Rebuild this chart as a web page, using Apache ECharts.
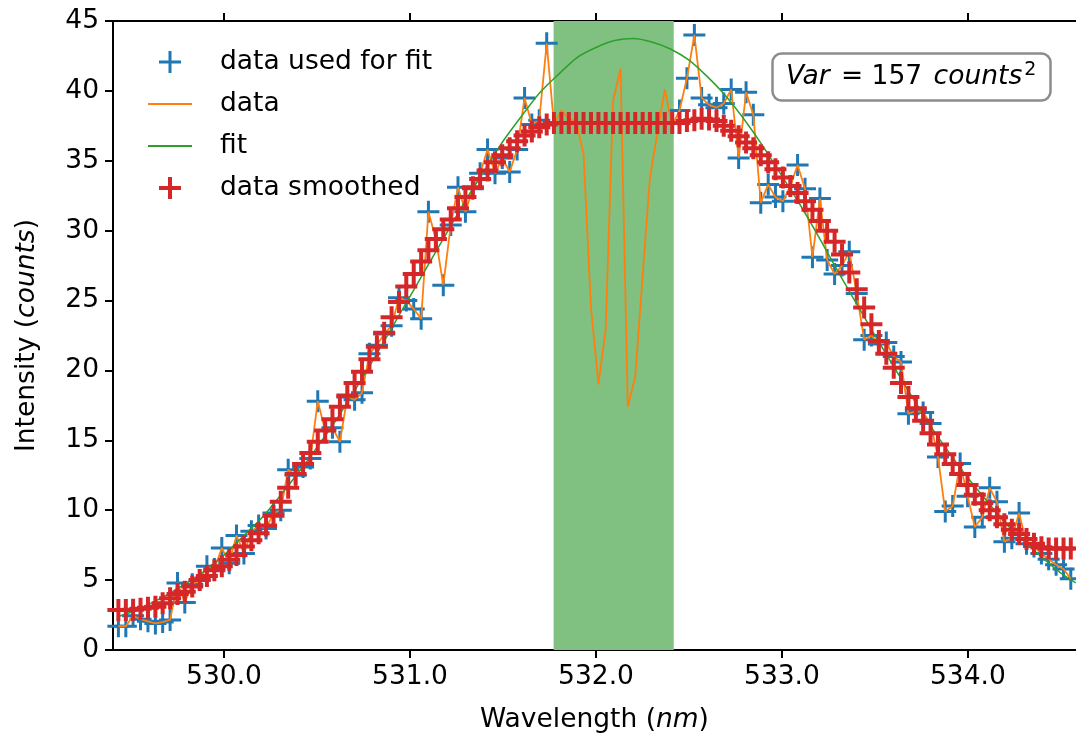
<!DOCTYPE html>
<html><head><meta charset="utf-8">
<script src="https://cdn.jsdelivr.net/npm/echarts@6/dist/echarts.min.js"></script>
<style>html,body{margin:0;padding:0;background:#fff}#c{width:1076px;height:736px}</style>
</head><body><div id="c"></div>
<script>
const wavelengths = [
529.432,529.472,529.511,529.551,529.591,529.631,529.670,529.710,529.750,529.789,
529.829,529.869,529.908,529.948,529.988,530.028,530.067,530.107,530.147,530.186,
530.226,530.266,530.305,530.345,530.385,530.425,530.464,530.504,530.544,530.583,
530.623,530.663,530.702,530.742,530.782,530.822,530.861,530.901,530.941,530.980,
531.020,531.060,531.099,531.139,531.179,531.219,531.258,531.298,531.338,531.377,
531.417,531.457,531.496,531.536,531.576,531.616,531.655,531.695,531.735,531.774,
531.814,531.854,531.893,531.933,531.973,532.013,532.052,532.092,532.132,532.171,
532.211,532.251,532.290,532.330,532.370,532.410,532.449,532.489,532.529,532.568,
532.608,532.648,532.687,532.727,532.767,532.807,532.846,532.886,532.926,532.965,
533.005,533.045,533.084,533.124,533.164,533.204,533.243,533.283,533.323,533.362,
533.402,533.442,533.481,533.521,533.561,533.601,533.640,533.680,533.720,533.759,
533.799,533.839,533.878,533.918,533.958,533.998,534.037,534.077,534.117,534.156,
534.196,534.236,534.275,534.315,534.355,534.395,534.434,534.474,534.514,534.553];

const counts = [
1.7,1.7,2.45,2.2,2.05,1.9,2.0,2.15,4.8,3.4,
4.7,5.0,6.0,5.8,7.3,6.2,8.2,6.9,8.5,8.9,
8.7,9.8,10.0,12.9,12.5,13.1,13.7,17.8,15.7,15.9,
14.9,18.1,17.9,18.4,21.2,21.8,22.6,23.2,25.2,25.0,
24.4,23.7,31.35,29.4,26.1,30.4,33.1,31.35,33.0,34.1,
35.8,34.1,35.2,34.2,35.8,39.5,37.6,37.9,43.4,37.6,
38.6,38.0,37.8,35.5,24.5,19.0,22.9,39.3,41.6,17.4,
19.55,26.8,33.8,37.0,40.1,37.5,38.6,40.9,44.0,39.5,
39.0,38.8,39.1,40.1,35.2,39.9,38.3,32.0,33.3,32.4,
32.1,33.2,34.7,33.0,28.1,32.3,27.9,26.9,27.5,28.5,
25.5,22.2,22.5,21.9,22.0,21.0,20.6,16.9,17.1,17.0,
16.2,13.8,9.9,10.3,13.35,11.0,8.8,9.5,11.6,10.6,
7.75,8.0,9.8,7.6,7.4,6.9,6.5,6.1,5.8,5.1];

const smoothed = [
2.86,2.86,2.88,2.95,3.02,3.1,3.35,3.7,4.0,4.17,
4.55,5.0,5.3,5.7,6.0,6.45,6.8,7.4,7.85,8.35,
8.9,9.6,10.6,11.6,12.6,13.3,14.1,14.9,15.7,16.5,
17.4,18.2,19.1,19.9,20.8,21.7,22.7,23.8,24.9,26.0,
26.9,27.8,28.6,29.4,30.1,30.8,31.6,32.4,33.1,33.7,
34.3,34.9,35.4,35.9,36.4,36.8,37.1,37.4,37.6,37.7,
37.7,37.7,37.7,37.7,37.7,37.7,37.7,37.7,37.7,37.7,
37.7,37.7,37.7,37.7,37.7,37.7,37.7,37.85,37.9,38.0,
37.95,37.85,37.5,37.15,36.75,36.3,35.9,35.4,34.9,34.4,
33.8,33.2,32.7,32.1,31.5,30.7,30.0,29.2,28.3,27.0,
25.8,24.5,23.3,22.1,21.2,20.2,19.1,18.1,17.3,16.4,
15.5,14.7,14.0,13.3,12.6,11.8,11.1,10.5,10.0,9.5,
9.0,8.6,8.3,7.95,7.6,7.35,7.27,7.27,7.27,7.27];

const fitWavelengths = [529.43,529.5,529.6,529.7,529.8,529.9,530.0,530.1,530.2,530.3,
530.4,530.5,530.6,530.7,530.8,530.9,531.0,531.1,531.2,531.3,
531.4,531.5,531.6,531.7,531.8,531.9,532.0,532.1,532.2,532.3,
532.4,532.5,532.6,532.7,532.8,532.9,533.0,533.1,533.2,533.3,
533.4,533.5,533.6,533.7,533.8,533.9,534.0,534.1,534.2,534.3,
534.4,534.5,534.58];
const fitValues = [2.4,2.7,3.3,4.0,4.8,5.7,6.8,8.1,9.4,11.0,
12.7,14.5,16.4,18.5,20.7,23.0,25.3,27.6,29.9,32.2,
34.3,36.4,38.2,39.9,41.2,42.4,43.1,43.6,43.75,43.5,
43.0,42.2,41.0,39.6,37.9,36.0,33.9,31.8,29.5,27.1,
24.8,22.5,20.3,18.1,16.0,14.1,12.3,10.7,9.1,7.8,
6.6,5.5,4.8];

const band = [531.772, 532.418];
const xTicks = [530, 531, 532, 533, 534];
const legendNames = ['data used for fit', 'data', 'fit', 'data smoothed'];

const FONT = 'DejaVu Sans';
const FS = 26.5;
const plusBlue = 'path://M9.5,0h3v9.5h9.5v3h-9.5v9.5h-3v-9.5h-9.5v-3h9.5z';
const plusRed = 'path://M9,0h4v9h9v4h-9v9h-4v-9h-9v-4h9z';
const legBlue = 'path://M0,0M67,22M20.5,0h3v9.5h9.5v3h-9.5v9.5h-3v-9.5h-9.5v-3h9.5z';
const legRed = 'path://M0,0M67,22M20,0h4v9h9v4h-9v9h-4v-9h-9v-4h9z';
const legLine = 'path://M0,0M67,22M0,10.1h44v1.8h-44z';

const usedForFit = [];
wavelengths.forEach((w, i) => { if (w < band[0] || w > band[1]) usedForFit.push([w, counts[i]]); });
const dataPts = wavelengths.map((w, i) => [w, counts[i]]);
const smoothPts = wavelengths.map((w, i) => [w, smoothed[i]]);
const fitPts = fitWavelengths.map((w, i) => [w, fitValues[i]]);

const chart = echarts.init(document.getElementById('c'), null, {renderer: 'canvas'});
const axisCommon = {
  type: 'value', min: 529.403, max: 534.581,
  axisLine: {show: true, lineStyle: {color: '#000', width: 2}},
  splitLine: {show: false}
};
chart.setOption({
  animation: false,
  backgroundColor: '#fff',
  grid: {left: 113, right: 0, top: 21, bottom: 86, containLabel: false, outerBoundsMode: 'none'},
  title: {
    text: '{i|Var}{n| = 157 }{i|counts}{s|2}',
    left: 772, top: 53,
    padding: [8, 14, 8, 14],
    borderColor: '#8c8c8c', borderWidth: 2.5, borderRadius: 9,
    backgroundColor: '#fff',
    textStyle: {
      fontFamily: FONT, fontSize: FS, fontWeight: 'normal', color: '#000', lineHeight: 32,
      rich: {
        i: {fontFamily: FONT, fontSize: FS, fontStyle: 'italic', color: '#000', lineHeight: 32},
        n: {fontFamily: FONT, fontSize: FS, color: '#000', lineHeight: 32, padding: [0, 3, 0, 3]},
        s: {fontFamily: FONT, fontSize: 19, color: '#000', verticalAlign: 'top', lineHeight: 19, padding: [0, 0, 0, 2]}
      }
    }
  },
  legend: {
    orient: 'vertical', left: 143, top: 42,
    itemWidth: 67, itemHeight: 22, itemGap: 12,
    textStyle: {fontFamily: FONT, fontSize: FS, color: '#000', lineHeight: 30},
    itemStyle: {borderWidth: 0},
    data: [
      {name: legendNames[0], icon: legBlue},
      {name: legendNames[1], icon: legLine},
      {name: legendNames[2], icon: legLine},
      {name: legendNames[3], icon: legRed}
    ]
  },
  xAxis: [
    Object.assign({}, axisCommon, {
      position: 'bottom',
      axisTick: {show: true, customValues: xTicks, length: 8, lineStyle: {color: '#000', width: 2}},
      axisLabel: {show: true, customValues: xTicks, formatter: v => Number(v).toFixed(1),
        fontFamily: FONT, fontSize: FS, color: '#000', margin: 14},
      name: '{n|Wavelength (}{i|nm}{n|)}', nameLocation: 'middle', nameGap: 57,
      nameTextStyle: {fontFamily: FONT, fontSize: FS, color: '#000',
        rich: {n: {fontFamily: FONT, fontSize: FS, color: '#000'},
               i: {fontFamily: FONT, fontSize: FS, color: '#000', fontStyle: 'italic'}}}
    }),
    Object.assign({}, axisCommon, {
      position: 'top',
      axisTick: {show: true, customValues: xTicks, length: 8, lineStyle: {color: '#000', width: 2}},
      axisLabel: {show: false}
    })
  ],
  yAxis: {
    type: 'value', min: 0, max: 45, interval: 5,
    axisLine: {show: true, lineStyle: {color: '#000', width: 2}},
    axisTick: {show: true, length: 8, lineStyle: {color: '#000', width: 2}},
    axisLabel: {fontFamily: FONT, fontSize: FS, color: '#000', margin: 14},
    splitLine: {show: false},
    name: '{n|Intensity (}{i|counts}{n|)}', nameLocation: 'middle', nameGap: 72, nameRotate: 90,
    nameTextStyle: {fontFamily: FONT, fontSize: FS, color: '#000',
      rich: {n: {fontFamily: FONT, fontSize: FS, color: '#000'},
             i: {fontFamily: FONT, fontSize: FS, color: '#000', fontStyle: 'italic'}}}
  },
  series: [
    {
      name: legendNames[0], type: 'scatter', data: usedForFit, z: 2,
      symbol: plusBlue, symbolSize: 22, itemStyle: {color: '#1f77b4', opacity: 1},
      markArea: {silent: true, itemStyle: {color: '#80c080', opacity: 1},
        data: [[{xAxis: band[0]}, {xAxis: band[1]}]]}
    },
    {
      name: legendNames[1], type: 'line', data: dataPts, z: 3, showSymbol: false, symbol: 'none',
      lineStyle: {color: '#ff7f0e', width: 1.8}, itemStyle: {color: '#ff7f0e'}
    },
    {
      name: legendNames[2], type: 'line', data: fitPts, z: 4, smooth: 0.3, showSymbol: false, symbol: 'none',
      lineStyle: {color: '#2ca02c', width: 1.5}, itemStyle: {color: '#2ca02c'}
    },
    {
      name: legendNames[3], type: 'scatter', data: smoothPts, z: 5,
      symbol: plusRed, symbolSize: 22, itemStyle: {color: '#d62728', opacity: 1}
    }
  ]
});
</script></body></html>
